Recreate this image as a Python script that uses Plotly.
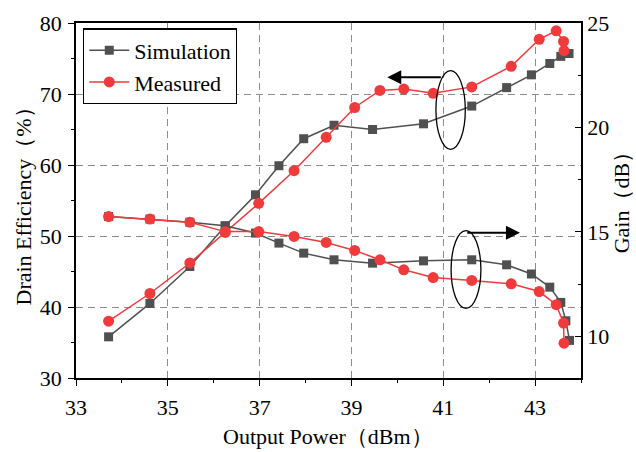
import plotly.graph_objects as go

# Simulation – efficiency
sim_eff_x = [33.71, 34.61, 35.48, 36.25, 36.91, 37.42, 37.96, 38.62, 39.46, 40.57, 41.62, 42.38, 42.92, 43.32, 43.56, 43.74]
sim_eff_y = [35.8, 40.5, 45.7, 51.4, 55.8, 59.9, 63.7, 65.6, 65.0, 65.8, 68.3, 70.9, 72.7, 74.3, 75.3, 75.7]
# Measured – efficiency
meas_eff_x = [33.71, 34.61, 35.48, 36.25, 36.98, 37.75, 38.45, 39.07, 39.62, 40.14, 40.78, 41.62, 42.48, 43.09, 43.46, 43.62, 43.63]
meas_eff_y = [38.0, 41.9, 46.2, 50.5, 54.6, 59.2, 63.9, 68.1, 70.5, 70.7, 70.1, 71.0, 73.9, 77.7, 78.9, 77.4, 76.1]
# Simulation – gain
sim_gain_x = [33.71, 34.61, 35.48, 36.25, 36.91, 37.42, 37.96, 38.62, 39.46, 40.57, 41.62, 42.38, 42.92, 43.32, 43.56, 43.67, 43.75]
sim_gain_y = [15.73, 15.61, 15.46, 15.29, 14.94, 14.46, 13.98, 13.66, 13.50, 13.61, 13.66, 13.42, 12.98, 12.35, 11.62, 10.74, 9.80]
# Measured – gain
meas_gain_x = [33.71, 34.61, 35.48, 36.25, 36.98, 37.75, 38.45, 39.07, 39.62, 40.14, 40.78, 41.62, 42.48, 43.09, 43.46, 43.62, 43.63]
meas_gain_y = [15.73, 15.61, 15.46, 15.01, 15.01, 14.78, 14.49, 14.11, 13.66, 13.18, 12.81, 12.67, 12.51, 12.14, 11.51, 10.63, 9.67]

x_ticks = [33, 35, 37, 39, 41, 43]
y_ticks = [30, 40, 50, 60, 70, 80]
y2_ticks = [10, 15, 20, 25]

x_title = "Output Power（dBm）"
y_title = "Drain Efficiency（%）"
y2_title = "Gain（dB）"

GRAY = "#505050"
RED = "#f03a3c"
FONT = "Liberation Serif, Times New Roman, serif"

fig = go.Figure()

sim_style = dict(mode="lines+markers", line=dict(color=GRAY, width=1.5),
                 marker=dict(symbol="square", size=9, color=GRAY))
meas_style = dict(mode="lines+markers", line=dict(color=RED, width=1.5),
                  marker=dict(symbol="circle", size=11, color=RED))

fig.add_trace(go.Scatter(x=sim_eff_x, y=sim_eff_y, name="Simulation", **sim_style))
fig.add_trace(go.Scatter(x=meas_eff_x, y=meas_eff_y, name="Measured", **meas_style))
fig.add_trace(go.Scatter(x=sim_gain_x, y=sim_gain_y, name="Simulation", yaxis="y2",
                         showlegend=False, **sim_style))
fig.add_trace(go.Scatter(x=meas_gain_x, y=meas_gain_y, name="Measured", yaxis="y2",
                         showlegend=False, **meas_style))

# Ellipses and arrows (annotation decorations)
fig.add_shape(type="circle", xref="x", yref="y", x0=40.84, x1=41.48, y0=62.2, y1=73.3,
              line=dict(color="black", width=1.3))
fig.add_shape(type="circle", xref="x", yref="y", x0=41.17, x1=41.82, y0=39.8, y1=50.75,
              line=dict(color="black", width=1.3))
fig.add_annotation(x=39.78, y=72.35, ax=40.98, ay=72.35, xref="x", yref="y", axref="x", ayref="y",
                   text="", showarrow=True, arrowhead=2, arrowsize=1.4, arrowwidth=2, arrowcolor="black")
fig.add_annotation(x=42.67, y=50.46, ax=41.49, ay=50.46, xref="x", yref="y", axref="x", ayref="y",
                   text="", showarrow=True, arrowhead=2, arrowsize=1.4, arrowwidth=2, arrowcolor="black")

# Axis titles as paper-anchored text
title_font = dict(family=FONT, size=22, color="black")
fig.add_annotation(text=x_title, xref="paper", yref="paper", x=0.499, y=-0.166,
                   xanchor="center", yanchor="middle", showarrow=False, font=title_font)
fig.add_annotation(text=y_title, xref="paper", yref="paper", x=-0.103, y=0.50,
                   xanchor="center", yanchor="middle", showarrow=False, textangle=-90, font=title_font)
fig.add_annotation(text=y2_title, xref="paper", yref="paper", x=1.082, y=0.51,
                   xanchor="center", yanchor="middle", showarrow=False, textangle=-90, font=title_font)

grid = dict(showgrid=True, gridcolor="#8c8c8c", griddash="7px,5px", gridwidth=1.2)

fig.update_layout(
    width=636, height=452,
    margin=dict(l=76, r=55, t=23, b=74),
    plot_bgcolor="white", paper_bgcolor="white",
    font=dict(family=FONT, size=22, color="black"),
    showlegend=True,
    legend=dict(x=0.014, y=0.985, xanchor="left", yanchor="top",
                bordercolor="black", borderwidth=1.2, bgcolor="white",
                font=dict(family=FONT, size=22), tracegroupgap=0, itemwidth=40),
    xaxis=dict(range=[33, 44], tickvals=x_ticks, ticks="outside", ticklen=6, tickwidth=1,
               tickcolor="black", showline=True, linecolor="black", linewidth=1.5, mirror=True,
               minor=dict(dtick=1, tick0=33, ticks="outside", ticklen=3, tickcolor="black", showgrid=False),
               tickfont=dict(family=FONT, size=22), ticklabelstandoff=3, automargin=False,
               zeroline=False, **grid),
    yaxis=dict(range=[30, 80], tickvals=y_ticks, ticks="outside", ticklen=6, tickwidth=1,
               tickcolor="black", showline=True, linecolor="black", linewidth=1.5,
               minor=dict(dtick=5, tick0=30, ticks="outside", ticklen=3, tickcolor="black", showgrid=False),
               tickfont=dict(family=FONT, size=22), ticklabelstandoff=2, automargin=False,
               zeroline=False, **grid),
    yaxis2=dict(range=[8, 25], tickvals=y2_ticks, overlaying="y", side="right", ticks="inside",
                ticklen=6, tickcolor="black", showline=True, linecolor="black", linewidth=1.5,
                minor=dict(dtick=2.5, tick0=10, ticks="inside", ticklen=3, tickcolor="black"),
                tickfont=dict(family=FONT, size=22), automargin=False,
                showgrid=False, zeroline=False),
)

fig.write_html("out.html")
